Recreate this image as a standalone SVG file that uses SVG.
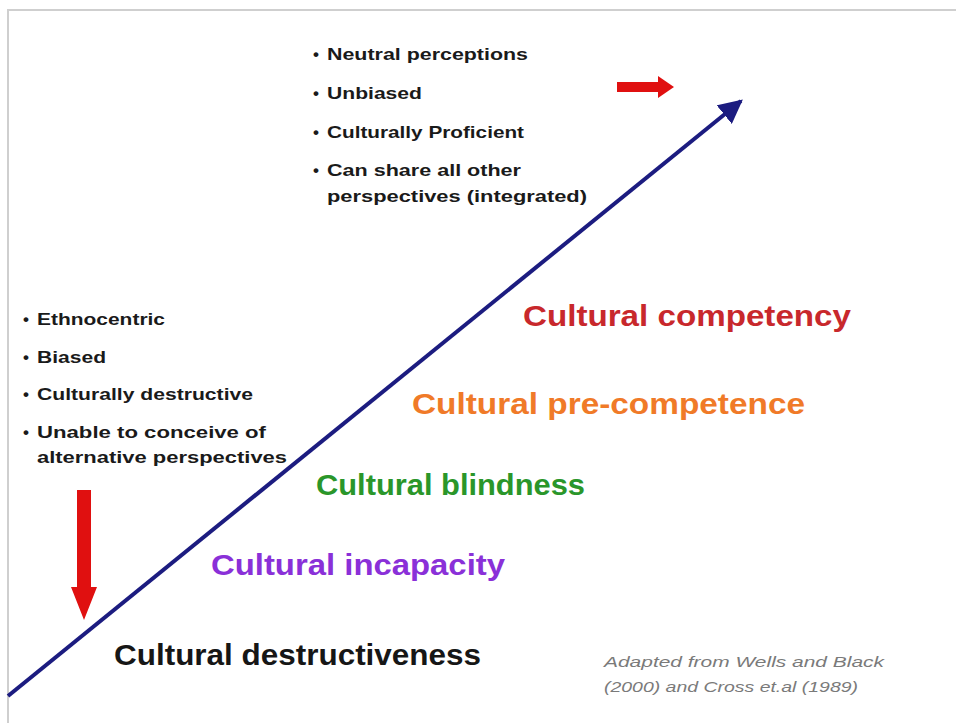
<svg xmlns="http://www.w3.org/2000/svg" width="956" height="723" viewBox="0 0 956 723">
  <style>
    .frame { fill: none; stroke: #cfcfcf; stroke-width: 2; }
    .bullet { font-family: "Liberation Sans", Arial, sans-serif; font-weight: bold; font-size: 17px; fill: #1a1a1a; }
    .stage { font-family: "Liberation Sans", Arial, sans-serif; font-weight: bold; font-size: 29px; }
    .cite { font-family: "Liberation Sans", Arial, sans-serif; font-style: italic; font-size: 15px; fill: #7a7a7a; }
    .axis { stroke: #1c1c80; stroke-width: 4; fill: none; }
    .red-arrow { fill: #e01010; }
  </style>
  <defs>
    <marker id="axisHead" viewBox="0 0 10 10" refX="9" refY="5" markerWidth="6" markerHeight="6" markerUnits="strokeWidth" orient="auto">
      <path d="M0,0 L10,5 L0,10 z" fill="#1c1c80"/>
    </marker>
  </defs>

  <rect width="956" height="723" fill="#ffffff"/>
  <!-- page frame -->
  <path class="frame" d="M8,723 L8,10 L956,10"/>

  <g id="connectors">
    <!-- rising axis -->
    <line class="axis" x1="8" y1="696" x2="741" y2="101" marker-end="url(#axisHead)"/>
    <!-- red arrow pointing right -->
    <path class="red-arrow" d="M617,82 L658,82 L658,76 L674,87 L658,98 L658,92 L617,92 z"/>
    <!-- red arrow pointing down -->
    <path class="red-arrow" d="M77,490 L91,490 L91,587 L97,587 L84,620 L71,587 L77,587 z"/>
  </g>

  <g id="top-notes">
    <text class="bullet" x="313" y="60">•</text>
    <text class="bullet" x="327" y="60" textLength="201" lengthAdjust="spacingAndGlyphs">Neutral perceptions</text>
    <text class="bullet" x="313" y="99">•</text>
    <text class="bullet" x="327" y="99" textLength="95" lengthAdjust="spacingAndGlyphs">Unbiased</text>
    <text class="bullet" x="313" y="138">•</text>
    <text class="bullet" x="327" y="138" textLength="197" lengthAdjust="spacingAndGlyphs">Culturally Proficient</text>
    <text class="bullet" x="313" y="176">•</text>
    <text class="bullet" x="327" y="176" textLength="194" lengthAdjust="spacingAndGlyphs">Can share all other</text>
    <text class="bullet" x="327" y="202" textLength="260" lengthAdjust="spacingAndGlyphs">perspectives (integrated)</text>
  </g>

  <g id="left-notes">
    <text class="bullet" x="23" y="325">•</text>
    <text class="bullet" x="37" y="325" textLength="128" lengthAdjust="spacingAndGlyphs">Ethnocentric</text>
    <text class="bullet" x="23" y="363">•</text>
    <text class="bullet" x="37" y="363" textLength="69" lengthAdjust="spacingAndGlyphs">Biased</text>
    <text class="bullet" x="23" y="400">•</text>
    <text class="bullet" x="37" y="400" textLength="216" lengthAdjust="spacingAndGlyphs">Culturally destructive</text>
    <text class="bullet" x="23" y="438">•</text>
    <text class="bullet" x="37" y="438" textLength="229" lengthAdjust="spacingAndGlyphs">Unable to conceive of</text>
    <text class="bullet" x="37" y="463" textLength="250" lengthAdjust="spacingAndGlyphs">alternative perspectives</text>
  </g>

  <g id="stage-competency">
    <text class="stage" x="523" y="326" fill="#c8282c" textLength="328" lengthAdjust="spacingAndGlyphs">Cultural competency</text>
  </g>
  <g id="stage-pre-competence">
    <text class="stage" x="412" y="414" fill="#f07a28" textLength="393" lengthAdjust="spacingAndGlyphs">Cultural pre-competence</text>
  </g>
  <g id="stage-blindness">
    <text class="stage" x="316" y="495" fill="#2a962a" textLength="269" lengthAdjust="spacingAndGlyphs">Cultural blindness</text>
  </g>
  <g id="stage-incapacity">
    <text class="stage" x="211" y="575" fill="#8a30d8" textLength="294" lengthAdjust="spacingAndGlyphs">Cultural incapacity</text>
  </g>
  <g id="stage-destructiveness">
    <text class="stage" x="114" y="665" fill="#161616" textLength="367" lengthAdjust="spacingAndGlyphs">Cultural destructiveness</text>
  </g>

  <g id="citation">
    <text class="cite" x="604" y="667" textLength="280" lengthAdjust="spacingAndGlyphs">Adapted from Wells and Black</text>
    <text class="cite" x="604" y="692" textLength="254" lengthAdjust="spacingAndGlyphs">(2000) and Cross et.al (1989)</text>
  </g>
</svg>
